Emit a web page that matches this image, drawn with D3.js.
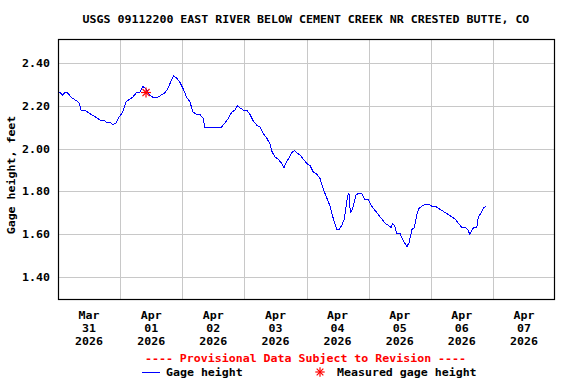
<!DOCTYPE html>
<html lang="en">
<head>
<meta charset="UTF-8">
<title>USGS 09112200 Gage height</title>
<script src="https://d3js.org/d3.v7.min.js"></script>
<style>
    body { margin: 0; background: #fff; }
    text { font-family: "DejaVu Sans Mono", monospace; font-weight: bold; }
</style>
</head>
<body>
<div id="chart"></div>
<script>

// hours since 2026-03-31 00:00 and gage height (feet)
var hours = [0, 1.0, 1.8, 2.6, 3.75, 5.0, 6.3, 7.6, 8.3, 8.9, 10.2, 11.5, 12.8, 14.1, 15.4, 16.6, 17.9, 19.2, 20.5, 21.2,
    22.4, 23.75, 25.0, 26.3, 27.6, 28.9, 30.2, 31.5, 32.8, 34.0, 35.4, 36.6, 38.6, 39.8, 41.2, 42.4, 43.5, 44.25, 44.75, 45.8,
    47.1, 48.35, 49.7, 50.9, 52.2, 53.5, 54.8, 56.1, 56.75, 58.0, 59.3, 60.6, 61.9, 63.2, 64.5, 65.75, 67.1, 68.35, 69.2, 70.3,
    71.6, 72.9, 74.15, 75.4, 76.7, 78.0, 79.3, 80.6, 81.9, 82.5, 83.8, 85.1, 86.4, 87.3, 88.35, 89.0, 90.3, 91.3, 92.2, 93.5,
    94.8, 96.1, 97.35, 98.6, 99.95, 101.2, 102.5, 103.8, 105.1, 106.4, 107.7, 108.6, 109.6, 110.6, 111.3, 111.9, 112.4, 112.95, 113.5, 114.3,
    115.0, 116.0, 117.35, 118.6, 119.9, 121.2, 122.5, 123.8, 125.1, 126.4, 127.6, 128.7, 129.2, 130.0, 130.9, 132.2, 133.4, 134.75, 135.65, 136.7,
    137.7, 138.6, 139.5, 140.6, 141.8, 143.1, 144.4, 145.7, 147.0, 148.3, 149.6, 150.9, 152.2, 153.4, 154.7, 156.0, 157.3, 158.4, 159.0, 159.6,
    160.5, 161.8, 162.4, 163.5, 164.3, 165.3];
var gage = [2.26, 2.26, 2.25, 2.26, 2.26, 2.24, 2.23, 2.22, 2.21, 2.18, 2.18, 2.17, 2.16, 2.15, 2.14, 2.13, 2.13, 2.12, 2.12, 2.11,
    2.12, 2.15, 2.17, 2.22, 2.23, 2.24, 2.26, 2.26, 2.29, 2.28, 2.25, 2.24, 2.24, 2.25, 2.26, 2.28, 2.31, 2.33, 2.34, 2.33,
    2.31, 2.28, 2.24, 2.22, 2.17, 2.16, 2.16, 2.14, 2.10, 2.10, 2.10, 2.10, 2.10, 2.10, 2.12, 2.14, 2.17, 2.18, 2.20, 2.19,
    2.18, 2.18, 2.16, 2.13, 2.11, 2.10, 2.07, 2.05, 2.02, 1.99, 1.96, 1.95, 1.93, 1.91, 1.94, 1.95, 1.98, 1.99, 1.98, 1.97,
    1.95, 1.93, 1.92, 1.89, 1.88, 1.86, 1.81, 1.77, 1.73, 1.67, 1.62, 1.62, 1.64, 1.67, 1.73, 1.78, 1.79, 1.70, 1.71, 1.74,
    1.78, 1.79, 1.79, 1.76, 1.76, 1.73, 1.71, 1.69, 1.67, 1.65, 1.64, 1.63, 1.65, 1.64, 1.60, 1.60, 1.57, 1.54, 1.56, 1.62,
    1.63, 1.69, 1.72, 1.73, 1.74, 1.74, 1.73, 1.73, 1.72, 1.71, 1.70, 1.69, 1.68, 1.67, 1.65, 1.63, 1.63, 1.62, 1.60, 1.61,
    1.63, 1.63, 1.68, 1.70, 1.72, 1.73];

// field measurement
var measuredHours = [34.0];
var measuredGage = [2.262];

var yTicks = [1.40, 1.60, 1.80, 2.00, 2.20, 2.40];
var dayLabels = [["Mar", "31", "2026"], ["Apr", "01", "2026"], ["Apr", "02", "2026"], ["Apr", "03", "2026"],
    ["Apr", "04", "2026"], ["Apr", "05", "2026"], ["Apr", "06", "2026"], ["Apr", "07", "2026"]];

var title = "USGS 09112200 EAST RIVER BELOW CEMENT CREEK NR CRESTED BUTTE, CO";

var W = 576, H = 384;
var plotL = 58, plotR = 555, plotT = 39, plotB = 300;
var CW = 6.98; // advance of one character

var t0 = new Date(2026, 2, 31);
function toDate(h) { return new Date(t0.getTime() + h * 3600000); }

var svg = d3.select("#chart").append("svg")
    .attr("width", W)
    .attr("height", H);

var x = d3.scaleTime()
    .domain([t0, d3.timeDay.offset(t0, 8)])
    .range([plotL, plotR]);

var y = d3.scaleLinear()
    .domain([1.291, 2.5125])
    .range([plotB, plotT]);

// text with a fixed advance per character, like the bitmap font
function label(sel, str) {
    return sel.text(str)
        .attr("textLength", str.length * CW)
        .attr("lengthAdjust", "spacingAndGlyphs");
}

// title
label(svg.append("text")
    .attr("x", 306)
    .attr("y", 23)
    .attr("text-anchor", "middle")
    .style("font-size", "10.5px"), title);

// grid
var days = d3.timeDay.range(d3.timeDay.offset(t0, 1), d3.timeDay.offset(t0, 8));
svg.append("g").selectAll("line").data(days).enter().append("line")
    .attr("x1", function(d) { return Math.round(x(d)) + 0.5; })
    .attr("x2", function(d) { return Math.round(x(d)) + 0.5; })
    .attr("y1", plotT)
    .attr("y2", plotB)
    .attr("stroke", "#c8c8c8");

svg.append("g").selectAll("line").data(yTicks).enter().append("line")
    .attr("x1", plotL)
    .attr("x2", plotR)
    .attr("y1", function(d) { return Math.round(y(d)) + 0.5; })
    .attr("y2", function(d) { return Math.round(y(d)) + 0.5; })
    .attr("stroke", "#c8c8c8");

// y labels
svg.append("g").selectAll("text").data(yTicks).enter().append("text")
    .attr("x", 50)
    .attr("y", function(d) { return y(d) + 4; })
    .attr("text-anchor", "end")
    .style("font-size", "10.5px")
    .each(function(d) { label(d3.select(this), d3.format(".2f")(d)); });

label(svg.append("text")
    .attr("transform", "translate(15,175) rotate(-90)")
    .attr("text-anchor", "middle")
    .style("font-size", "10.5px"), "Gage height, feet");

// x labels, centred on noon of each day
var xl = svg.append("g").selectAll("g").data(dayLabels).enter().append("g")
    .attr("transform", function(d, i) { return "translate(" + x(toDate(24 * i + 12)) + ",0)"; });
[319, 332, 345].forEach(function(yy, k) {
    xl.append("text")
        .attr("y", yy)
        .attr("text-anchor", "middle")
        .style("font-size", "10.5px")
        .each(function(d) { label(d3.select(this), d[k]); });
});

// gage height line
var pts = hours.map(function(h, i) { return [toDate(h), gage[i]]; });
svg.append("path")
    .datum(pts)
    .attr("fill", "none")
    .attr("stroke", "#0000ff")
    .attr("stroke-width", 1)
    .attr("shape-rendering", "crispEdges")
    .attr("d", d3.line()
        .x(function(d) { return x(d[0]); })
        .y(function(d) { return y(d[1]); }));

// asterisk marker
function star(g, cx, cy, r) {
    [0, 45, 90, 135].forEach(function(a) {
        var dx = r * Math.cos(a * Math.PI / 180), dy = r * Math.sin(a * Math.PI / 180);
        g.append("line")
            .attr("x1", cx - dx).attr("y1", cy - dy)
            .attr("x2", cx + dx).attr("y2", cy + dy)
            .attr("stroke", "#ff0000")
            .attr("stroke-width", 1.2);
    });
}
measuredHours.forEach(function(h, i) {
    star(svg.append("g"), x(toDate(h)), y(measuredGage[i]), 5);
});

// frame
svg.append("rect")
    .attr("x", plotL + 0.5)
    .attr("y", plotT + 0.5)
    .attr("width", plotR - plotL - 1)
    .attr("height", plotB - plotT - 1)
    .attr("fill", "none")
    .attr("stroke", "#000")
    .attr("stroke-width", 1.2);

// legend
label(svg.append("text")
    .attr("x", 305.5)
    .attr("y", 362)
    .attr("text-anchor", "middle")
    .attr("fill", "#ff0000")
    .style("font-size", "10.5px"), "---- Provisional Data Subject to Revision ----");

svg.append("line")
    .attr("x1", 142).attr("x2", 160)
    .attr("y1", 372.5).attr("y2", 372.5)
    .attr("stroke", "#0000ff");
label(svg.append("text")
    .attr("x", 166)
    .attr("y", 376)
    .style("font-size", "10.5px"), "Gage height");

star(svg.append("g"), 320, 372, 4.7);
label(svg.append("text")
    .attr("x", 337)
    .attr("y", 376)
    .style("font-size", "10.5px"), "Measured gage height");

</script>
</body>
</html>
